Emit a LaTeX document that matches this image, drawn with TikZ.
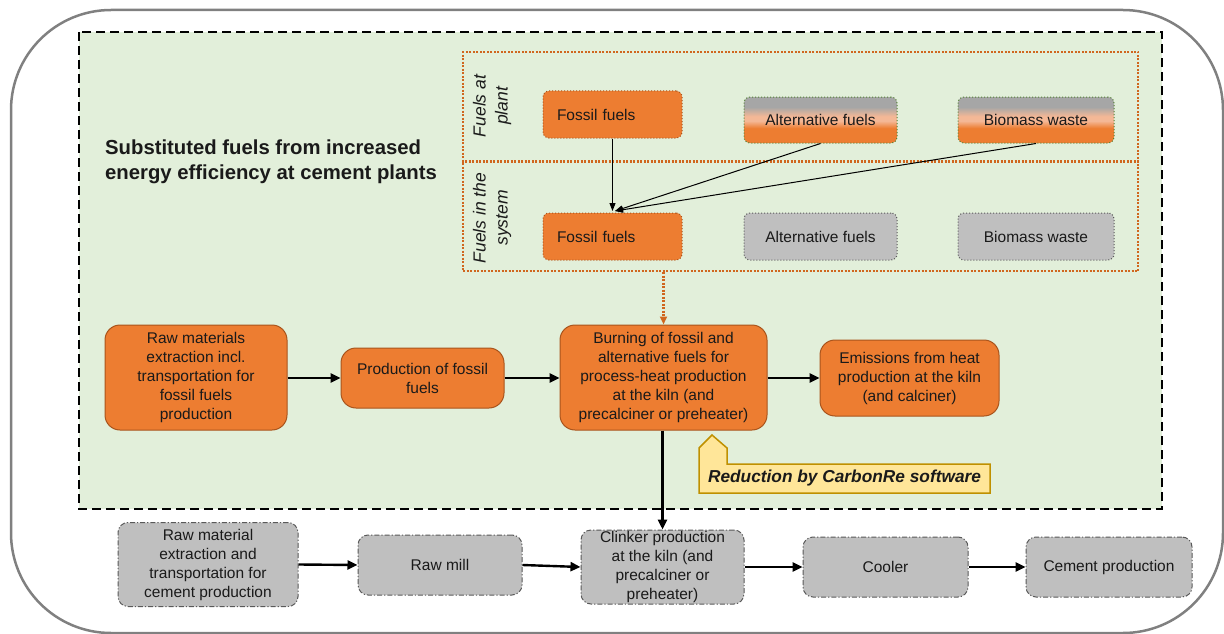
\documentclass[tikz,border=0pt]{standalone}
\usepackage{fontspec}
\setmainfont{Liberation Sans}
\usetikzlibrary{arrows.meta,shapes.misc}
\definecolor{orfill}{HTML}{ED7D31}
\definecolor{orline}{HTML}{A9541C}
\definecolor{ordot}{HTML}{D0661E}
\definecolor{greenbg}{HTML}{E2EFDA}
\definecolor{greyfill}{HTML}{BFBFBF}
\definecolor{greyline}{HTML}{595959}
\definecolor{gradgrey}{HTML}{A6A6A6}
\definecolor{peach}{HTML}{F4B896}
\definecolor{greendot}{HTML}{548235}
\definecolor{callfill}{HTML}{FFE699}
\definecolor{callline}{HTML}{BF9000}
\definecolor{outer}{HTML}{808080}
\definecolor{txt}{HTML}{1A1A1A}
\pgfdeclareverticalshading{altfuel}{100bp}{color(0bp)=(orfill); color(25bp)=(orfill); color(41bp)=(orfill); color(49bp)=(peach); color(54bp)=(peach); color(64bp)=(gradgrey); color(75bp)=(gradgrey); color(100bp)=(gradgrey)}
\tikzset{
  body/.style={font=\fontsize{15.5}{19}\selectfont, text=txt, align=center, inner sep=2pt},
  orbox/.style={body, draw=orline, fill=orfill, line width=1pt, rounded corners=15pt},
  fuelor/.style={body, draw=orline, fill=orfill, dotted, line width=1pt, rounded corners=6pt, align=left, text width=111pt, inner xsep=14pt},
  fuelgrad/.style={body, draw=greendot, shading=altfuel, dotted, line width=1pt, rounded corners=6pt},
  fuelgrey/.style={body, draw=greyline, fill=greyfill, dotted, line width=1pt, rounded corners=6pt},
  greybox/.style={body, draw=greyline, fill=greyfill, line width=1pt, dash pattern=on 5pt off 2pt on 1.2pt off 2pt, rounded corners=10pt},
  bigarrow/.style={line width=2.4pt, -{Triangle[length=10pt,width=9pt]}},
  thinarrow/.style={line width=1pt, -{Triangle[length=8pt,width=6pt]}},
  sidelab/.style={font=\fontsize{17.5}{22}\selectfont\itshape, text=txt, align=center, rotate=90, inner sep=0pt},
  orangedots/.style={draw=ordot, dash pattern=on 2pt off 1.5pt, line width=2.2pt},
}
\begin{document}
\begin{tikzpicture}[x=1pt,y=-1pt]
\useasboundingbox (0,0) rectangle (1224,634);
% green dashed region
\draw[fill=greenbg, dash pattern=on 9pt off 5pt, line width=2pt] (79,32) rectangle (1162,509);
% outer rounded frame
\draw[outer, line width=2.5pt, rounded corners=100pt] (11,10) rectangle (1223,633);
% fuels frame
\node[orangedots, minimum width=675pt, minimum height=219pt, inner sep=0pt] (frame) at (800.5,161.5) {};
\draw[orangedots] (frame.west) -- (frame.east);
\node[sidelab] (labplant) at (492,106) {Fuels at\\plant};
\node[sidelab] (labsys) at (492,218) {Fuels in the\\system};
% heading
\node[font=\fontsize{20.3}{25}\selectfont\bfseries, text=txt, align=left, anchor=west, inner sep=0pt] (head) at (105,162) {Substituted fuels from increased\\energy efficiency at cement plants};
% fuel boxes
\node[fuelor, minimum width=139pt, minimum height=47pt] (tfos) at (612.5,114.5) {Fossil fuels};
\node[fuelgrad, minimum width=153pt, minimum height=46pt] (talt) at (820.5,120) {Alternative fuels};
\node[fuelgrad, minimum width=156pt, minimum height=46pt] (tbio) at (1036,120) {Biomass waste};
\node[fuelor, minimum width=139pt, minimum height=47pt] (bfos) at (612.5,236.5) {Fossil fuels};
\node[fuelgrey, minimum width=153pt, minimum height=47pt] (balt) at (820.5,236.5) {Alternative fuels};
\node[fuelgrey, minimum width=156pt, minimum height=47pt] (bbio) at (1036,236.5) {Biomass waste};
\coordinate (meet) at (615,211);
\draw[thinarrow] (tfos.south) -- (tfos.south |- meet);
\draw[thinarrow] (talt.south) -- (meet);
\draw[thinarrow] (tbio.south) -- (meet);
% middle row
\node[orbox, minimum width=182pt, minimum height=105pt] (raw) at (196,377.5) {Raw materials\\extraction incl.\\transportation for\\fossil fuels\\production};
\node[orbox, minimum width=163pt, minimum height=60pt] (prod) at (422.5,378) {Production of fossil\\fuels};
\node[orbox, minimum width=207pt, minimum height=105pt] (burn) at (663.5,377.5) {Burning of fossil and\\alternative fuels for\\process-heat production\\at the kiln (and\\precalciner or preheater)};
\node[orbox, minimum width=179pt, minimum height=76pt] (emis) at (909.5,378) {Emissions from heat\\production at the kiln\\(and calciner)};
\draw[bigarrow] (raw.east |- prod.west) -- (prod.west);
\draw[bigarrow] (prod.east) -- (prod.east -| burn.west);
\draw[bigarrow] (burn.east |- emis.west) -- (emis.west);
\draw[ordot, dash pattern=on 2pt off 1.5pt, line width=2.2pt, -{Triangle[length=8pt,width=7pt]}] (frame.south -| burn.north) -- (burn.north);
% callout
\draw[callline, fill=callfill, line width=1.5pt] (699,493) -- (699,448) -- (712,435) -- (727,448) -- (727,464) -- (990,464) -- (990,493) -- cycle;
\node[font=\fontsize{17.3}{20}\selectfont\bfseries\itshape, text=txt, inner sep=0pt] (callout) at (844.5,478.5) {Reduction by CarbonRe software};
% bottom row
\node[greybox, minimum width=180pt, minimum height=84pt] (rawc) at (208,564.5) {Raw material\\extraction and\\transportation for\\cement production};
\node[greybox, minimum width=164pt, minimum height=60pt] (mill) at (440,565) {Raw mill};
\node[greybox, minimum width=163pt, minimum height=74pt, inner sep=0pt] (clink) at (662.5,567) {Clinker production\\at the kiln (and\\precalciner or\\preheater)};
\node[greybox, minimum width=165pt, minimum height=60pt] (cool) at (885.5,567) {Cooler};
\node[greybox, minimum width=166pt, minimum height=60pt] (cem) at (1109,567) {Cement production};
\draw[bigarrow] (burn.south -| clink.north) -- (clink.north);
\draw[bigarrow] (rawc.east) -- (mill.west);
\draw[bigarrow] (mill.east) -- (clink.west);
\draw[bigarrow] (clink.east) -- (cool.west);
\draw[bigarrow] (cool.east) -- (cem.west);
\end{tikzpicture}
\end{document}
